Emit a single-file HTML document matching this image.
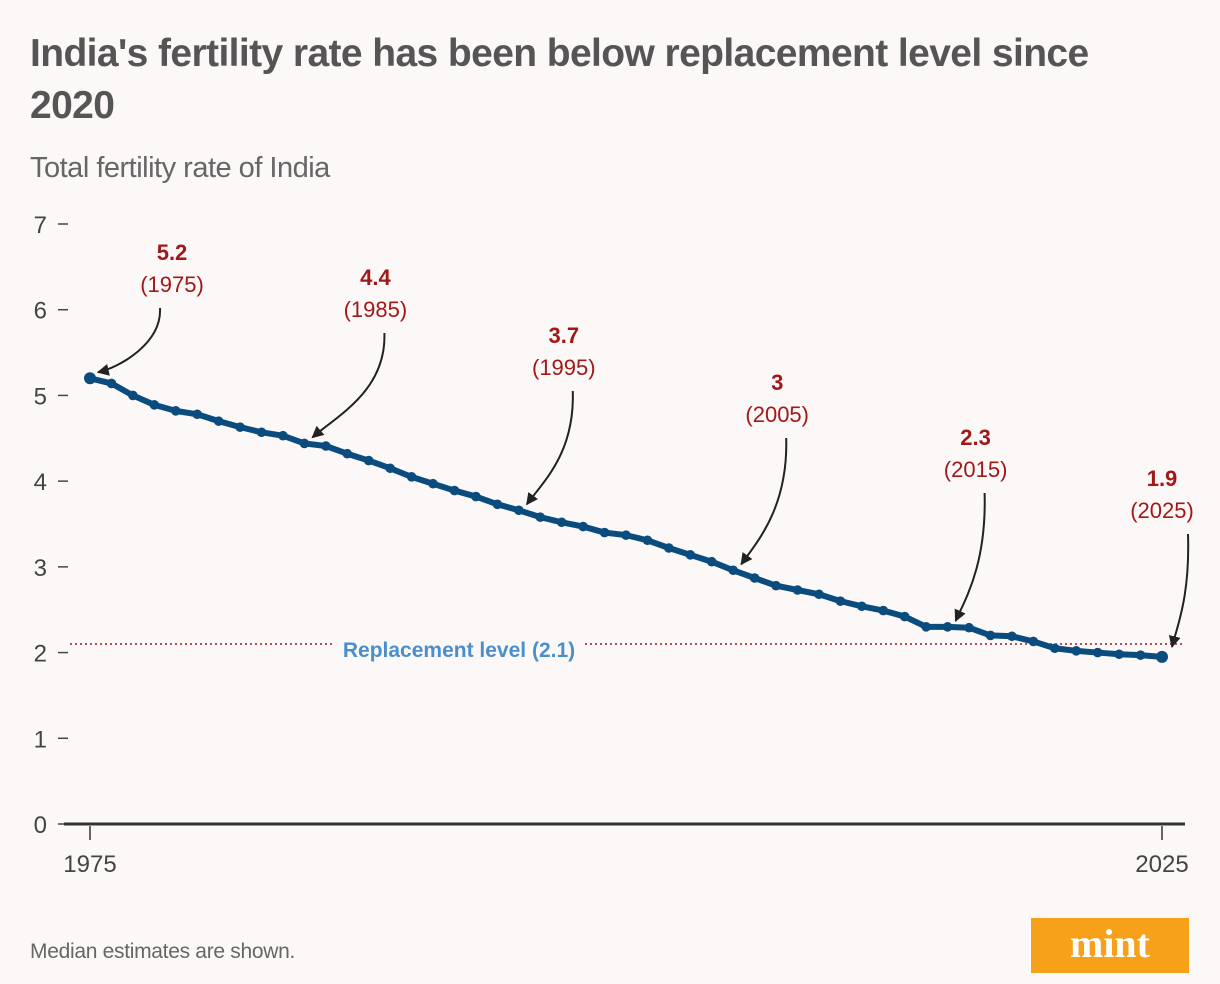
<!DOCTYPE html>
<html><head><meta charset="utf-8"><style>
body{margin:0;background:#fdf8f8;font-family:"Liberation Sans",sans-serif;}
#wrap{position:relative;width:1220px;height:984px;overflow:hidden;background:#fdf8f8;}
h1{position:absolute;left:30px;top:28px;margin:0;font-size:39px;line-height:52px;color:#555;font-weight:bold;width:1180px;letter-spacing:-0.6px}
.sub{position:absolute;left:30px;top:152px;font-size:29px;color:#666;letter-spacing:-0.5px}
.foot{position:absolute;left:30px;top:940px;font-size:21px;color:#666;letter-spacing:-0.3px}
.logo{position:absolute;left:1031px;top:918px;width:158px;height:55px;background:#f7a11a;color:#fff;font-family:"Liberation Serif",serif;font-weight:bold;font-size:40px;text-align:center;line-height:52px}
svg{position:absolute;left:0;top:0}
</style></head><body>
<div id="wrap">
<h1>India's fertility rate has been below replacement level since<br>2020</h1>
<div class="sub">Total fertility rate of India</div>
<div class="foot">Median estimates are shown.</div>
<div class="logo">mint</div>
<svg id="chart" width="1220" height="984">
<defs><marker id="ah" viewBox="0 0 10 10" refX="9" refY="5" markerWidth="6" markerHeight="6" orient="auto"><path d="M0,0L10,5L0,10z" fill="#222"/></marker></defs>
</svg>
</div>
<script>
const years=[];for(let y=1975;y<=2025;y++)years.push(y);
const tfr=[5.20,5.14,5.00,4.89,4.82,4.78,4.70,4.63,4.57,4.53,4.44,4.41,4.32,4.24,4.15,4.05,3.97,3.89,3.82,3.73,3.66,3.58,3.52,3.47,3.40,3.37,3.31,3.22,3.14,3.06,2.96,2.87,2.78,2.73,2.68,2.60,2.54,2.49,2.42,2.30,2.30,2.29,2.20,2.19,2.13,2.05,2.02,2.00,1.98,1.97,1.95];
const yTicks=[0,1,2,3,4,5,6,7];
const annYears=[1975,1985,1995,2005,2015,2025];
const annVals=["5.2","4.4","3.7","3","2.3","1.9"];
const replacement=2.1;
const annDx=[82,71,45,44,28,0];
const annLy=[260,285,343,390,445,486];
const NS="http://www.w3.org/2000/svg";
const svg=document.getElementById('chart');
const X=y=>90+(y-1975)*(1162-90)/50;
const Y=v=>824-v*600/7;
function mk(t,a,p){const e=document.createElementNS(NS,t);for(const k in a)e.setAttribute(k,a[k]);(p||svg).appendChild(e);return e;}
yTicks.forEach(t=>{
 const tx=mk('text',{x:47,y:Y(t)+9,'text-anchor':'end','font-size':24,fill:'#444','font-family':'Liberation Sans'});tx.textContent=t;
 
 
 const l=mk('line',{x1:58,x2:68,y1:Y(t),y2:Y(t),stroke:'#444','stroke-width':1.5});
 
 
});
const ax=mk('line',{x1:64,x2:1185,y1:824,y2:824,stroke:'#333','stroke-width':3});


[1975,2025].forEach(y=>{
 const l=mk('line',{x1:X(y),x2:X(y),y1:826,y2:840,stroke:'#333','stroke-width':1.5});
 
 
 const t=mk('text',{x:X(y),y:872,'text-anchor':'middle','font-size':24,fill:'#444','font-family':'Liberation Sans'});t.textContent=y;
 
 
});
const rl=mk('line',{x1:70,x2:1185,y1:Y(replacement),y2:Y(replacement),stroke:'#a01818','stroke-width':1.5,'stroke-dasharray':'2,3'});


const rb=mk('rect',{x:334,y:Y(replacement)-8,width:250,height:26,fill:'#fdf8f8'});


const rt=mk('text',{x:459,y:Y(replacement)+13,'text-anchor':'middle','font-size':21,'font-weight':'bold',fill:'#4a8fcc','font-family':'Liberation Sans'});
rt.textContent='Replacement level ('+replacement+')';


const ln=mk('polyline',{points:years.map((y,i)=>X(y)+','+Y(tfr[i])).join(' '),fill:'none',stroke:'#0b4c7e','stroke-width':6,'stroke-linejoin':'round'});


years.forEach((y,i)=>{
 const c=mk('circle',{cx:X(y),cy:Y(tfr[i]),r:i==0||i==years.length-1?6:4.8,fill:'#0b4c7e'});
 
 
});
annYears.forEach((yr,k)=>{
 const i=years.indexOf(yr);const px=X(yr),py=Y(tfr[i]);
 const lx=px+annDx[k];
 const ly=annLy[k];
 const v=mk('text',{x:lx,y:ly,'text-anchor':'middle','font-size':22,'font-weight':'bold',fill:'#a01818','font-family':'Liberation Sans'});v.textContent=annVals[k];
 
 
 const t=mk('text',{x:lx,y:ly+32,'text-anchor':'middle','font-size':22,fill:'#a01818','font-family':'Liberation Sans'});t.textContent='('+yr+')';
 
 
 const sx=lx+(k==0?-12:k==5?26:9),sy=ly+48,ex=px+(k==5?10:8),ey=py-(k==5?10:6);
 const p=mk('path',{d:`M${sx},${sy} C${sx+2},${sy+(ey-sy)*0.55} ${ex+(sx-ex)*0.35},${ey-(k==0?5:22)} ${ex},${ey}`,fill:'none',stroke:'#222','stroke-width':2,'marker-end':'url(#ah)'});
 
 
});
</script>
</body></html>
